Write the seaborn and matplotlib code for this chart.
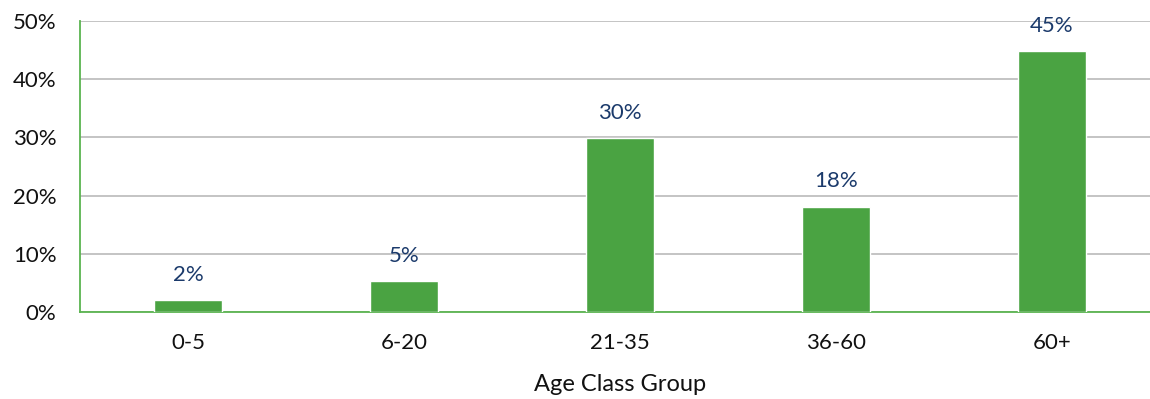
import matplotlib
matplotlib.use("Agg")
import matplotlib.pyplot as plt
import seaborn as sns
import pandas as pd
from matplotlib.ticker import FuncFormatter

categories = ["0-5", "6-20", "21-35", "36-60", "60+"]
values = [2.1, 5.3, 29.9, 18.1, 44.85]
labels = ["2%", "5%", "30%", "18%", "45%"]

sns.set_theme(style="white")
plt.rcParams['font.family'] = ['Lato', 'DejaVu Sans']

df = pd.DataFrame({"group": categories, "pct": values})

fig = plt.figure(figsize=(11.5, 3.99), dpi=100)
ax = fig.add_axes([80 / 1150, 87 / 399, 1080 / 1150, 291 / 399])
sns.barplot(data=df, x="group", y="pct", color="#4AA342", width=0.315,
            saturation=1, ax=ax, zorder=3)
ax.set_xlim(-0.5, 4.5)
ax.set_ylim(0, 50)
ax.set_yticks(range(0, 51, 10))
ax.yaxis.set_major_formatter(FuncFormatter(lambda v, p: f"{int(v)}%"))
ax.grid(axis="y", color="#BFBFBF", linewidth=1.3, zorder=0)
ax.set_axisbelow(True)
for s in ["top", "right"]:
    ax.spines[s].set_visible(False)
ax.spines["left"].set_color("#5BB450")
ax.spines["bottom"].set_color("#5BB450")
ax.spines["left"].set_linewidth(1.3)
ax.spines["bottom"].set_linewidth(1.3)
ax.tick_params(axis="both", length=0, labelsize=16, colors="#111111")
ax.tick_params(axis="x", pad=15)
ax.tick_params(axis="y", pad=17)
ax.set_xlabel("Age Class Group", fontsize=17, color="#111111", labelpad=15)
ax.set_ylabel("")
for i, (v, t) in enumerate(zip(values, labels)):
    ax.annotate(t, (i, v), xytext=(0, 11), textcoords="offset points",
                ha="center", va="bottom", fontsize=16, color="#1B3A6B")
fig.savefig("out.png", dpi=100)
